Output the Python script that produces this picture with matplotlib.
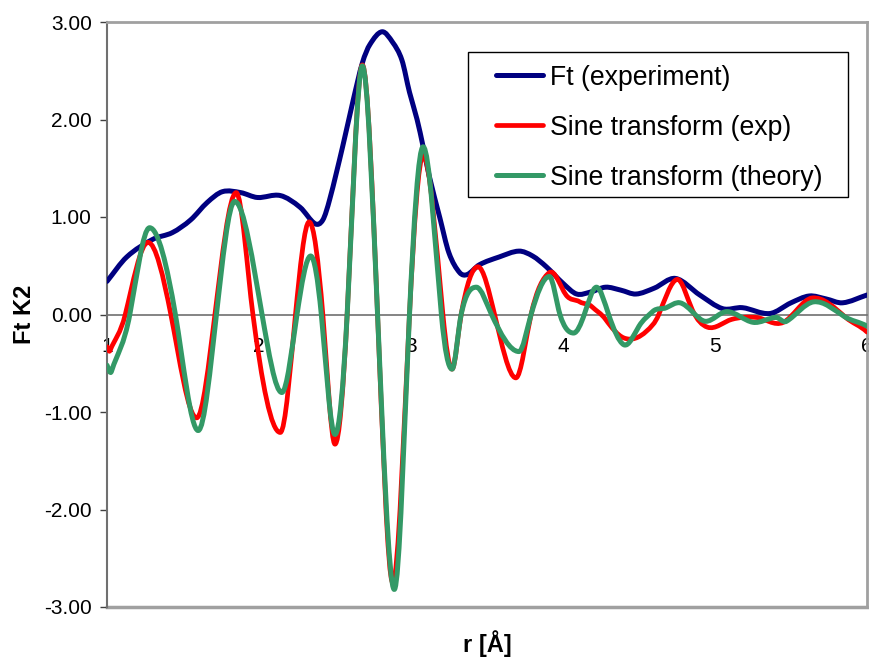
import numpy as np
import matplotlib
matplotlib.use("Agg")
import matplotlib.pyplot as plt
from matplotlib.path import Path
from matplotlib.patches import PathPatch, Rectangle
from matplotlib.lines import Line2D

plt.rcParams['font.family'] = ['Liberation Sans', 'DejaVu Sans']

# Ft (experiment)
ft_r = [1.00, 1.13, 1.30, 1.43, 1.55, 1.66, 1.76, 1.88, 1.99, 2.14, 2.27, 2.37, 2.42,
        2.465, 2.55, 2.62, 2.68, 2.73, 2.81, 2.88, 2.94, 2.99, 3.04, 3.08, 3.12, 3.19,
        3.25, 3.32, 3.37, 3.45, 3.58, 3.71, 3.80, 3.89, 4.00, 4.09, 4.18, 4.28, 4.38,
        4.48, 4.60, 4.74, 4.90, 5.05, 5.18, 5.36, 5.50, 5.62, 5.73, 5.84, 6.00]
ft_y = [0.34, 0.59, 0.77, 0.84, 0.97, 1.15, 1.26, 1.25, 1.20, 1.22, 1.10, 0.93, 0.97,
        1.18, 1.72, 2.20, 2.58, 2.77, 2.90, 2.79, 2.61, 2.28, 2.00, 1.72, 1.42, 0.99,
        0.63, 0.43, 0.41, 0.51, 0.59, 0.65, 0.60, 0.49, 0.32, 0.21, 0.23, 0.28, 0.25,
        0.21, 0.27, 0.37, 0.20, 0.06, 0.07, 0.01, 0.12, 0.19, 0.16, 0.12, 0.20]

# Sine transform (exp)
exp_r = [1.00, 1.02, 1.12, 1.27, 1.42, 1.59, 1.71, 1.85, 1.96, 2.14, 2.24, 2.33, 2.42,
         2.50, 2.58, 2.68, 2.78, 2.88, 2.99, 3.08, 3.21, 3.27, 3.33, 3.44, 3.55, 3.69,
         3.79, 3.91, 4.02, 4.11, 4.19, 4.28, 4.40, 4.55, 4.63, 4.75, 4.85, 4.95, 5.11,
         5.27, 5.45, 5.64, 5.86, 6.00]
exp_y = [-0.33, -0.37, 0.00, 0.74, 0.00, -1.06, 0.00, 1.25, 0.00, -1.21, 0.00, 0.95, 0.00,
         -1.33, 0.00, 2.56, 0.00, -2.75, 0.00, 1.63, 0.00, -0.56, 0.00, 0.49, 0.00, -0.65,
         0.00, 0.43, 0.20, 0.13, 0.08, -0.05, -0.24, -0.17, 0.00, 0.36, 0.05, -0.13, -0.05,
         -0.03, -0.08, 0.17, -0.03, -0.18]

# Sine transform (theory)
th_r = [1.00, 1.03, 1.15, 1.28, 1.45, 1.60, 1.72, 1.84, 2.02, 2.15, 2.25, 2.34, 2.41,
        2.50, 2.58, 2.68, 2.78, 2.89, 2.99, 3.08, 3.20, 3.27, 3.33, 3.43, 3.53, 3.71,
        3.79, 3.91, 3.98, 4.07, 4.14, 4.22, 4.30, 4.40, 4.50, 4.59, 4.68, 4.77, 4.85,
        4.94, 5.08, 5.25, 5.40, 5.47, 5.65, 5.85, 6.00]
th_y = [-0.52, -0.58, 0.00, 0.89, 0.00, -1.19, 0.00, 1.16, 0.00, -0.80, 0.00, 0.60, 0.00,
        -1.23, 0.00, 2.55, 0.00, -2.82, 0.00, 1.72, 0.00, -0.56, 0.00, 0.28, 0.00, -0.38,
        0.00, 0.39, 0.00, -0.19, 0.00, 0.28, 0.00, -0.31, -0.12, 0.03, 0.07, 0.12, 0.03,
        -0.07, 0.03, -0.08, -0.03, -0.07, 0.13, -0.02, -0.12]


def smooth_path(x, y, k=1.0):
    # smoothed line like excel: hermite segments written as bezier curves
    x = np.asarray(x, float)
    y = np.asarray(y, float)
    n = len(x)
    m = np.zeros(n)
    for i in range(n):
        a = max(i - 1, 0)
        b = min(i + 1, n - 1)
        m[i] = k * (y[b] - y[a]) / (x[b] - x[a])
    verts = [(x[0], y[0])]
    codes = [Path.MOVETO]
    for i in range(n - 1):
        d = (x[i + 1] - x[i]) / 3.0
        verts += [(x[i] + d, y[i] + m[i] * d),
                  (x[i + 1] - d, y[i + 1] - m[i + 1] * d),
                  (x[i + 1], y[i + 1])]
        codes += [Path.CURVE4] * 3
    return Path(verts, codes)


fig = plt.figure(figsize=(8.69, 6.59), dpi=100)
ax = fig.add_axes([107 / 869, 52 / 659, 760 / 869, 585 / 659])

series = [(ft_r, ft_y, '#000080', 'Ft (experiment)', 3.6, 1.0),
          (exp_r, exp_y, '#ff0000', 'Sine transform (exp)', 3.4, 1.4),
          (th_r, th_y, '#339966', 'Sine transform (theory)', 3.6, 1.4)]
handles = []
for r, v, c, lab, lw, k in series:
    ax.add_patch(PathPatch(smooth_path(r, v, k), fill=False, edgecolor=c, lw=lw,
                           capstyle='round', joinstyle='round', zorder=3))
    handles.append(Line2D([], [], color=c, lw=lw, solid_capstyle='round', label=lab))

ax.set_xlim(1, 6)
ax.set_ylim(-3, 3)
ax.set_yticks(np.arange(-3, 4, 1))
ax.set_yticklabels(['%.2f' % t for t in np.arange(-3, 4, 1)])
ax.set_xticks([1, 2, 3, 4, 5, 6])

ax.spines['bottom'].set_position(('data', 0))
ax.spines['bottom'].set_color('#707070')
ax.spines['bottom'].set_linewidth(1.2)
ax.spines['left'].set_color('#707070')
ax.spines['left'].set_linewidth(1.5)
ax.spines['top'].set_color('#a0a0a0')
ax.spines['top'].set_linewidth(2)
ax.spines['right'].set_color('#a0a0a0')
ax.spines['right'].set_linewidth(2)
ax.axhline(-3, color='#a0a0a0', lw=2.5, clip_on=False, zorder=1)

ax.tick_params(axis='y', labelsize=15, length=5, width=1, color='#404040', pad=6)
ax.tick_params(axis='x', labelsize=15, length=0, pad=16)

ax.set_xlabel('r [Å]', fontsize=17, fontweight='bold')
ax.set_ylabel('Ft K2', fontsize=17, fontweight='bold')
ax.xaxis.set_label_coords(0.5, -0.04)
ax.yaxis.set_label_coords(-0.093, 0.5)

# legend box drawn by hand so the padding matches
ax.add_patch(Rectangle((0.475, 0.701), 0.5, 0.248, transform=ax.transAxes,
                       facecolor='white', edgecolor='black', lw=1, zorder=4))
leg = ax.legend(handles=handles, loc='upper left', bbox_to_anchor=(0.5118, 0.927),
                borderaxespad=0, borderpad=0, fontsize=19.2, frameon=False,
                handlelength=1.78, handletextpad=0.25, labelspacing=0.9)
leg.set_zorder(5)

fig.savefig('out.png', dpi=100)
